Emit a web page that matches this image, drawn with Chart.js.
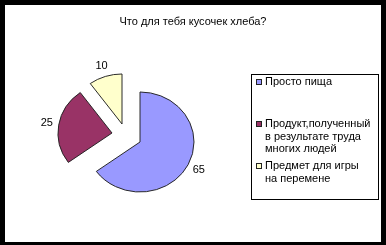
<!DOCTYPE html>
<html>
<head>
<meta charset="utf-8">
<script src="https://cdn.jsdelivr.net/npm/chart.js@4/dist/chart.umd.min.js"></script>
<style>
  html, body { margin: 0; padding: 0; background: #fff; }
  canvas { display: block; }
</style>
</head>
<body>
<canvas id="c" width="386" height="245"></canvas>
<script>
// ---- data ----
const titleText = 'Что для тебя кусочек хлеба?';
const categories = [
  ['Просто пища'],
  ['Продукт,полученный', 'в результате труда', 'многих людей'],
  ['Предмет для игры', 'на перемене']
];
const values = [65, 25, 10];
const colors = ['#9999FF', '#993366', '#FFFFCC'];

// ---- styles ----
const FONT = '"Liberation Sans", Arial, sans-serif';
const yScale = 0.926;                       // pie drawn slightly flattened
const sliceShift = [[0, 0], [-28, -9], [-18, -18]];   // explode offsets (px)
const labelGap = 12;

const framePlugin = {
  id: 'frame',
  beforeDraw(chart) {
    const ctx = chart.ctx;
    ctx.save();
    ctx.fillStyle = '#000';
    ctx.fillRect(0, 0, chart.width, chart.height);
    ctx.fillStyle = '#fff';
    ctx.fillRect(5, 5, 376, 237);
    // title
    ctx.fillStyle = '#000';
    ctx.font = '11px ' + FONT;
    ctx.textAlign = 'center';
    ctx.textBaseline = 'middle';
    ctx.fillText(titleText, 193, 22);
    ctx.restore();
  }
};

const pieDrawPlugin = {
  id: 'pieDraw',
  beforeDatasetDraw(chart, args) {
    const ctx = chart.ctx;
    const meta = args.meta;
    meta.data.forEach((arc, i) => {
      const [dx, dy] = sliceShift[i];
      ctx.save();
      ctx.translate(dx, dy);
      ctx.translate(arc.x, arc.y);
      ctx.scale(1, yScale);
      ctx.translate(-arc.x, -arc.y);
      arc.draw(ctx, chart.chartArea);
      ctx.restore();
    });
    // value labels
    ctx.save();
    ctx.fillStyle = '#000';
    ctx.font = '11px ' + FONT;
    ctx.textAlign = 'center';
    ctx.textBaseline = 'middle';
    meta.data.forEach((arc, i) => {
      const [dx, dy] = sliceShift[i];
      const mid = (arc.startAngle + arc.endAngle) / 2;
      const r = arc.outerRadius + labelGap;
      const x = arc.x + dx + Math.cos(mid) * r;
      const y = arc.y + dy + Math.sin(mid) * r * yScale;
      ctx.fillText(String(chart.data.datasets[0].data[i]), x, y);
    });
    ctx.restore();
    return false;
  }
};

const legendPlugin = {
  id: 'boxLegend',
  afterDraw(chart) {
    const ctx = chart.ctx;
    ctx.save();
    ctx.strokeStyle = '#000';
    ctx.lineWidth = 1;
    ctx.strokeRect(251.5, 74.5, 127, 125);
    ctx.font = '11px ' + FONT;
    ctx.textAlign = 'left';
    ctx.textBaseline = 'middle';
    const labels = chart.data.labels;
    const bg = chart.data.datasets[0].backgroundColor;
    labels.forEach((lines, i) => {
      const y0 = 82 + i * 42;
      ctx.fillStyle = bg[i];
      ctx.fillRect(256, y0 - 3, 6, 6);
      ctx.strokeStyle = '#222';
      ctx.strokeRect(256.5, y0 - 2.5, 5, 5);
      ctx.fillStyle = '#000';
      lines.forEach((t, j) => ctx.fillText(t, 265, y0 + j * 12.5));
    });
    ctx.restore();
  }
};

new Chart(document.getElementById('c'), {
  type: 'pie',
  data: {
    labels: categories,
    datasets: [{
      data: values,
      backgroundColor: colors,
      borderColor: '#222',
      borderWidth: 1
    }]
  },
  options: {
    responsive: false,
    devicePixelRatio: 1,
    animation: false,
    radius: 54,
    layout: { padding: { left: 10, right: 116, top: 60, bottom: 21 } },
    plugins: {
      legend: { display: false },
      title: { display: false },
      tooltip: { enabled: false }
    }
  },
  plugins: [framePlugin, pieDrawPlugin, legendPlugin]
});
</script>
</body>
</html>
